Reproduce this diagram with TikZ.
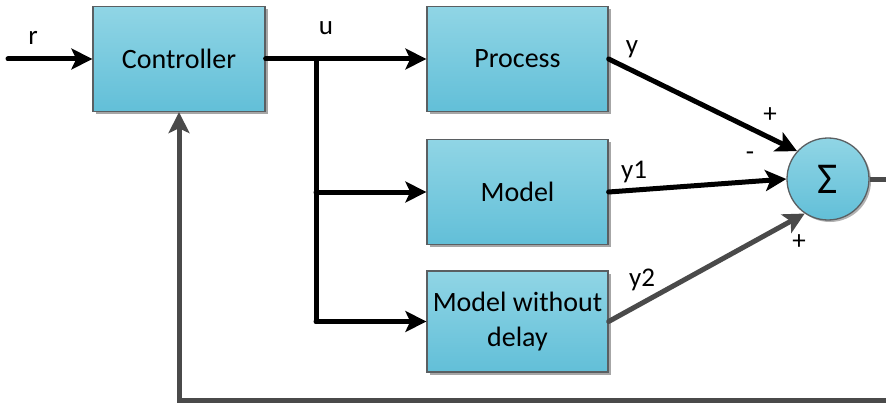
\documentclass[tikz,border=0pt]{standalone}
\usepackage{fontspec}
\setmainfont{Carlito}
\usetikzlibrary{arrows.meta,shadows,calc}
\definecolor{boxtop}{HTML}{90D5E5}
\definecolor{boxbot}{HTML}{62BFD8}
\definecolor{boxedge}{HTML}{5A5F62}
\definecolor{fbgray}{HTML}{4A4A4A}
\tikzset{
  block/.style={draw=boxedge, line width=1.3pt, top color=boxtop, bottom color=boxbot,
    minimum width=181pt, minimum height=105pt, inner sep=2pt, align=center,
    font=\fontsize{28}{35}\selectfont,
    drop shadow={shadow xshift=2.5pt, shadow yshift=-2.5pt, fill=black, opacity=0.35}},
  sumnode/.style={circle, draw=boxedge, line width=1.3pt, top color=boxtop, bottom color=boxbot,
    minimum size=82pt, inner sep=0pt, font=\fontsize{44}{44}\selectfont,
    drop shadow={shadow xshift=2pt, shadow yshift=-2pt, fill=black, opacity=0.3}},
  sig/.style={line width=5pt, line cap=round, -{Stealth[length=21pt,width=21pt,inset=5pt]}},
  plain/.style={line width=5pt, line cap=round},
  lbl/.style={font=\fontsize{27}{32}\selectfont, inner sep=0pt}
}
\begin{document}
\begin{tikzpicture}[x=1pt,y=1pt]
\useasboundingbox (0,0) rectangle (886,405);

% blocks
\node[block, minimum width=172pt] (ctrl) at (179,346) {Controller};
\node[block] (proc) at (517.5,346) {Process};
\node[block] (model) at (517.5,213) {Model};
\node[block, minimum height=101pt] (nodel) at (517.5,83.5) {Model without\\delay};
\node[sumnode] (sum) at (828,226) {Σ};

% branch points and free ends
\coordinate (ju) at (316,346);
\coordinate (uin) at (8,346);
\coordinate (outR) at (886,226);
\coordinate (fbR) at (886,5);
\coordinate (fbL) at (179,5);

% reference input
\draw[sig] (uin) -- (ctrl.west);
% control signal and branches
\draw[sig] (ctrl.east) -- (proc.west);
\draw[plain] (ju) -- (ju |- nodel.west);
\draw[sig] (ju |- model.west) -- (model.west);
\draw[sig] (ju |- nodel.west) -- (nodel.west);

% outputs into the summing junction
\draw[sig] (proc.east) -- (sum.138);
\draw[sig] (model.east) -- (sum.west);
\draw[sig, fbgray] (nodel.east) -- (sum.236);

% output and feedback
\draw[plain, fbgray, line cap=butt] (sum.east) -- (outR);
\draw[sig, fbgray, line cap=butt] (fbR) -- (fbL) -- (ctrl.south);

% labels
\node[lbl] at (33,367) {r};
\node[lbl] at (326,377) {u};
\node[lbl] at (632,356) {y};
\node[lbl] at (634,233) {y1};
\node[lbl] at (642,125) {y2};
\node[lbl] at (770,290) {+};
\node[lbl] at (750,249) {-};
\node[lbl] at (799,163) {+};
\end{tikzpicture}
\end{document}
